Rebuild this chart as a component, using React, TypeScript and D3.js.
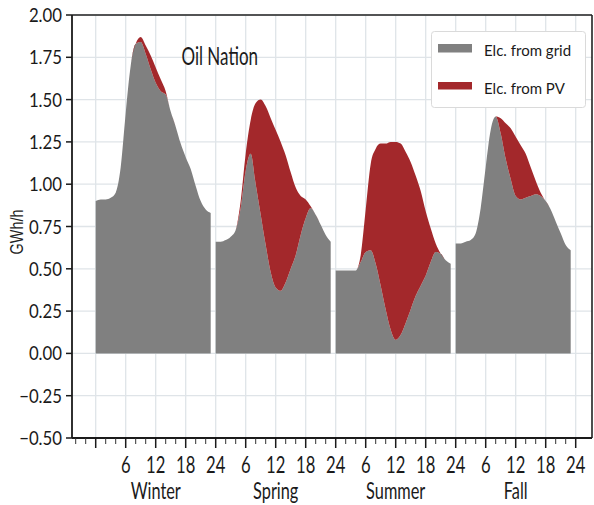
import React from 'react';
import * as d3 from 'd3';

const seasons = ['Winter', 'Spring', 'Summer', 'Fall'];

// hourly values (hour index 0..23 within each season), GWh/h
const winterGrid = [0.90, 0.91, 0.91, 0.92, 0.95, 1.10, 1.42, 1.70, 1.83, 1.84, 1.77, 1.68, 1.60, 1.55, 1.53, 1.43, 1.34, 1.24, 1.16, 1.09, 0.99, 0.90, 0.85, 0.83];
const winterTotal = [0.90, 0.91, 0.91, 0.92, 0.95, 1.10, 1.42, 1.70, 1.83, 1.87, 1.82, 1.76, 1.69, 1.62, 1.55, 1.43, 1.34, 1.24, 1.16, 1.09, 0.99, 0.90, 0.85, 0.83];

const springGrid = [0.66, 0.66, 0.67, 0.69, 0.73, 0.86, 1.08, 1.18, 1.00, 0.82, 0.64, 0.48, 0.39, 0.37, 0.42, 0.50, 0.58, 0.70, 0.80, 0.86, 0.82, 0.76, 0.70, 0.66];
const springTotal = [0.66, 0.66, 0.67, 0.69, 0.73, 0.90, 1.18, 1.38, 1.48, 1.50, 1.46, 1.39, 1.32, 1.25, 1.17, 1.07, 0.98, 0.93, 0.91, 0.87, 0.82, 0.76, 0.70, 0.66];

const summerGrid = [0.49, 0.49, 0.49, 0.49, 0.49, 0.54, 0.60, 0.61, 0.53, 0.40, 0.26, 0.14, 0.08, 0.11, 0.18, 0.26, 0.34, 0.40, 0.46, 0.54, 0.60, 0.59, 0.55, 0.53];
const summerTotal = [0.49, 0.49, 0.49, 0.49, 0.49, 0.58, 0.85, 1.12, 1.21, 1.24, 1.24, 1.25, 1.25, 1.24, 1.19, 1.13, 1.05, 0.96, 0.84, 0.74, 0.65, 0.59, 0.55, 0.53];

const fallGrid = [0.65, 0.65, 0.66, 0.67, 0.71, 0.86, 1.10, 1.32, 1.40, 1.30, 1.15, 1.03, 0.93, 0.91, 0.92, 0.93, 0.94, 0.93, 0.90, 0.85, 0.78, 0.71, 0.64, 0.61];
const fallTotal = [0.65, 0.65, 0.66, 0.67, 0.71, 0.86, 1.10, 1.32, 1.40, 1.39, 1.36, 1.33, 1.28, 1.23, 1.18, 1.10, 1.02, 0.95, 0.90, 0.85, 0.78, 0.71, 0.64, 0.61];

const gridSeries = [winterGrid, springGrid, summerGrid, fallGrid];
const totalSeries = [winterTotal, springTotal, summerTotal, fallTotal];

const yTicks = [-0.5, -0.25, 0, 0.25, 0.5, 0.75, 1.0, 1.25, 1.5, 1.75, 2.0];
const xMajorTicks = [0, 6, 12, 18, 24, 30, 36, 42, 48, 54, 60, 66, 72, 78, 84, 90, 96];
const xTickLabels = ['', '6', '12', '18', '24', '6', '12', '18', '24', '6', '12', '18', '24', '6', '12', '18', '24'];
const legendLabels = ['Elc. from grid', 'Elc. from PV'];
const title = 'Oil Nation';
const yLabel = 'GWh/h';

const GRAY = '#808080';
const RED = '#a3282b';
const FONT = "Lato, 'DejaVu Sans Condensed', sans-serif";
const TXT = '#1a1a1a';

function SText(props: { x: number; y: number; sx?: number; size: number; anchor?: string; children: any; fill?: string; font?: string; rotate?: number }) {
  const { x, y, sx = 1, size, anchor = 'start', children, fill = TXT, font = FONT, rotate = 0 } = props;
  return (
    <g transform={`translate(${x},${y}) rotate(${rotate}) scale(${sx},1)`}>
      <text fontFamily={font} fontSize={size} textAnchor={anchor as any} fill={fill}>{children}</text>
    </g>
  );
}

export default function App() {
  const W = 594, H = 505;
  const left = 72, right = 592, top = 15, bottom = 438;
  const x = d3.scaleLinear().domain([-4.74, 99.26]).range([left, right]);
  const y = d3.scaleLinear().domain([-0.5, 2]).range([bottom, top]);

  const minorTicks = d3.range(-4, 96, 2).filter((v) => v % 6 !== 0);

  const grayArea = (s: number) =>
    d3.area<number>()
      .x((_, i) => x(s * 24 + i))
      .y0(y(0))
      .y1((d) => y(d))
      .curve(d3.curveMonotoneX)(gridSeries[s]) || '';

  const redArea = (s: number) =>
    d3.area<number>()
      .x((_, i) => x(s * 24 + i))
      .y0((_, i) => y(gridSeries[s][i]))
      .y1((d) => y(d))
      .curve(d3.curveMonotoneX)(totalSeries[s]) || '';

  return (
    <svg width={W} height={H} style={{ position: 'absolute', left: 0, top: 0, background: '#fff' }}>
      <rect x={0} y={0} width={W} height={H} fill="#fff" />
      {/* gridlines */}
      {yTicks.map((t) => (
        <line key={'gy' + t} x1={left} x2={right} y1={y(t)} y2={y(t)} stroke="#dfe4e8" strokeWidth={1.3} />
      ))}
      {xMajorTicks.map((t) => (
        <line key={'gx' + t} x1={x(t)} x2={x(t)} y1={top} y2={bottom} stroke="#dfe4e8" strokeWidth={1.3} />
      ))}
      {/* areas */}
      {seasons.map((s, i) => (
        <g key={s}>
          <path d={grayArea(i)} fill={GRAY} />
          <path d={redArea(i)} fill={RED} />
        </g>
      ))}
      {/* frame */}
      <line x1={left} x2={right} y1={top} y2={top} stroke="#222" strokeWidth={1.6} />
      <line x1={right} x2={right} y1={top} y2={bottom} stroke="#222" strokeWidth={1.6} />
      <line x1={left} x2={left} y1={top} y2={bottom} stroke="#1a1a1a" strokeWidth={1.8} />
      <line x1={left} x2={right} y1={bottom} y2={bottom} stroke="#1a1a1a" strokeWidth={1.8} />
      {/* y ticks */}
      {yTicks.map((t) => (
        <g key={'yt' + t}>
          <line x1={left - 6} x2={left} y1={y(t)} y2={y(t)} stroke="#1a1a1a" strokeWidth={1.5} />
          <SText x={62} y={y(t) + 7} size={19.5} sx={0.86} anchor="end">{d3.format('.2f')(t).replace('-', '\u2212')}</SText>
        </g>
      ))}
      {/* x ticks */}
      {minorTicks.map((t) => (
        <line key={'mt' + t} x1={x(t)} x2={x(t)} y1={bottom} y2={bottom + 6} stroke="#333" strokeWidth={1} />
      ))}
      {xMajorTicks.map((t, i) => (
        <g key={'xt' + t}>
          <line x1={x(t)} x2={x(t)} y1={bottom} y2={bottom + 10} stroke="#1a1a1a" strokeWidth={1.5} />
          <SText x={x(t)} y={473} size={22.5} sx={0.74} anchor="middle">{xTickLabels[i]}</SText>
        </g>
      ))}
      {/* season labels */}
      {seasons.map((s, i) => (
        <SText key={'sl' + s} x={x(i * 24 + 12)} y={498.5} size={24} sx={0.68} anchor="middle">{s}</SText>
      ))}
      {/* title */}
      <SText x={181.5} y={65} size={25} sx={0.68}>{title}</SText>
      {/* y label */}
      <SText x={23} y={232} size={18} sx={0.8} anchor="middle" rotate={-90} font="'Liberation Sans', Arial, sans-serif" fill="#222">{yLabel}</SText>
      {/* legend */}
      <rect x={431.5} y={31.5} width={154} height={76} rx={3} fill="#fff" stroke="#dadada" strokeWidth={1} />
      <rect x={438} y={44} width={34} height={8.5} fill={GRAY} />
      <rect x={438} y={82} width={34} height={7.5} fill={RED} />
      <SText x={484} y={56} size={15.5} sx={0.97}>{legendLabels[0]}</SText>
      <SText x={484} y={94} size={15.5} sx={0.97}>{legendLabels[1]}</SText>
    </svg>
  );
}
